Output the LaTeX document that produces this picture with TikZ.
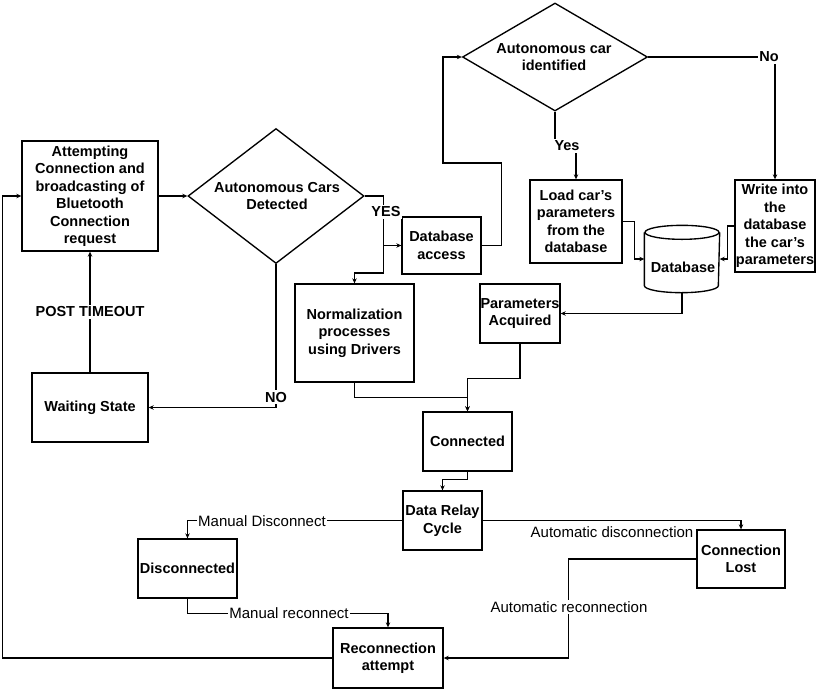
\documentclass[tikz,border=0pt]{standalone}
\usepackage{fontspec}
\setmainfont{Liberation Sans}
\usetikzlibrary{shapes.geometric,arrows.meta}
\newcommand\myfs{\fontsize{14.5}{17.5}\selectfont}
\newcommand\myfr{\fontsize{15}{17.5}\selectfont}
\begin{document}
\begin{tikzpicture}[x=1pt,y=-1pt,line width=1.35pt,
  box/.style={draw,rectangle,inner sep=0pt,align=center,font=\myfs\bfseries},
  dia/.style={draw,diamond,inner sep=0pt},
  txt/.style={inner sep=0pt,align=center,font=\myfs\bfseries},
  lblb/.style={fill=white,inner sep=1.5pt,font=\myfs\bfseries},
  lblr/.style={fill=white,inner sep=1.5pt,font=\myfr},
  arr/.style={-{Stealth[length=5pt,width=4.5pt]}}]
\useasboundingbox (0,0) rectangle (816,689);

% nodes
\node[box,minimum width=136pt,minimum height=110pt] (attempt) at (90,196)
  {Attempting\\Connection and\\broadcasting of\\Bluetooth\\Connection\\request};
\node[dia,minimum width=176pt,minimum height=135pt] (d1) at (276,196) {};
\node[txt] (d1t) at (277,196) {Autonomous Cars\\Detected};
\node[box,minimum width=79pt,minimum height=57pt] (dbacc) at (441.5,245.5) {Database\\access};
\node[dia,minimum width=185pt,minimum height=108pt] (d2) at (555,57) {};
\node[txt] (d2t) at (554,57) {Autonomous car\\identified};
\node[box,minimum width=92pt,minimum height=83pt] (load) at (576,221.5) {Load car's\\parameters\\from the\\database};
\node[box,minimum width=80pt,minimum height=92pt] (write) at (775,226) {Write into\\the\\database\\the car's\\parameters};
\node[inner sep=0pt,minimum width=74pt,minimum height=66pt] (db) at (682,259) {};
\draw ([yshift=-7pt]db.north west) -- ([yshift=7pt]db.south west)
  arc[start angle=180,end angle=360,x radius=37pt,y radius=7pt]
  -- ([yshift=-7pt]db.north east);
\draw ([yshift=-7pt]db.north) ellipse[x radius=37pt,y radius=7pt];
\node[txt] (dbt) at (683,267) {Database};
\node[box,minimum width=80pt,minimum height=59pt] (params) at (520,313.5) {Parameters\\Acquired};
\node[box,minimum width=119pt,minimum height=98pt] (norm) at (354.5,333) {Normalization\\processes\\using Drivers};
\node[box,minimum width=89pt,minimum height=59pt] (conn) at (467.5,441.5) {Connected};
\node[box,minimum width=116pt,minimum height=69pt] (wait) at (90,407.5) {Waiting State};
\node[box,minimum width=79pt,minimum height=59pt] (relay) at (442.5,520.5) {Data Relay\\Cycle};
\node[box,minimum width=99pt,minimum height=59pt] (disc) at (187.5,568.5) {Disconnected};
\node[box,minimum width=88pt,minimum height=58pt] (lost) at (741,559) {Connection\\Lost};
\node[box,minimum width=110pt,minimum height=60pt] (recon) at (388,658) {Reconnection\\attempt};

% connectors
\draw[arr] (attempt.east) -- (d1.west);
\draw[arr] (d1.east) -- ++(19,0) |- (dbacc.west);
\draw[arr] ([xshift=19pt]d1.east) -- ++(0,77) -| (norm.north);
\draw[arr] (dbacc.east) -- ++(20,0) |- (443,163) |- (d2.west);
\draw[arr] (d2.east) -| (write.north);
\draw[arr] (d2.south) -- ++(0,36) -| (load.north);
\draw[arr] (load.east) -- ++(12,0) |- (db.west);
\draw[arr] (write.west) -- ++(-7,0) |- (db.east);
\draw[arr] (db.south) |- (params.east);
\draw[arr] (params.south) -- ++(0,35) -| (conn.north);
\draw[arr] (norm.south) -- ++(0,15) -| (conn.north);
\draw[arr] (conn.south) -- ++(0,8) -| (relay.north);
\draw[arr] (relay.west) -| (disc.north);
\draw[arr] (relay.east) -| (lost.north);
\draw[arr] (lost.west) -- ++(-128,0) |- (recon.east);
\draw[arr] (disc.south) -- ++(0,15) -| (recon.north);
\draw[arr] (recon.west) -- ++(-330,0) |- (attempt.west);
\draw[arr] (wait.north) -- (attempt.south);
\draw[arr] (d1.south) |- (wait.east);

% labels
\node[lblb] (lyes) at (386,212) {YES};
\node[lblb] (lno) at (276,397) {NO};
\node[lblb] (lpost) at (90,312) {POST TIMEOUT};
\node[lblb] (lno2) at (769,57) {No};
\node[lblb] (lyes2) at (567,146) {Yes};
\node[lblr] (lmd) at (262,521) {Manual Disconnect};
\node[lblr,fill=none] (lad) at (612,532) {Automatic disconnection};
\node[lblr] (lar) at (569,607) {Automatic reconnection};
\node[lblr] (lmr) at (289,613) {Manual reconnect};
\end{tikzpicture}
\end{document}
